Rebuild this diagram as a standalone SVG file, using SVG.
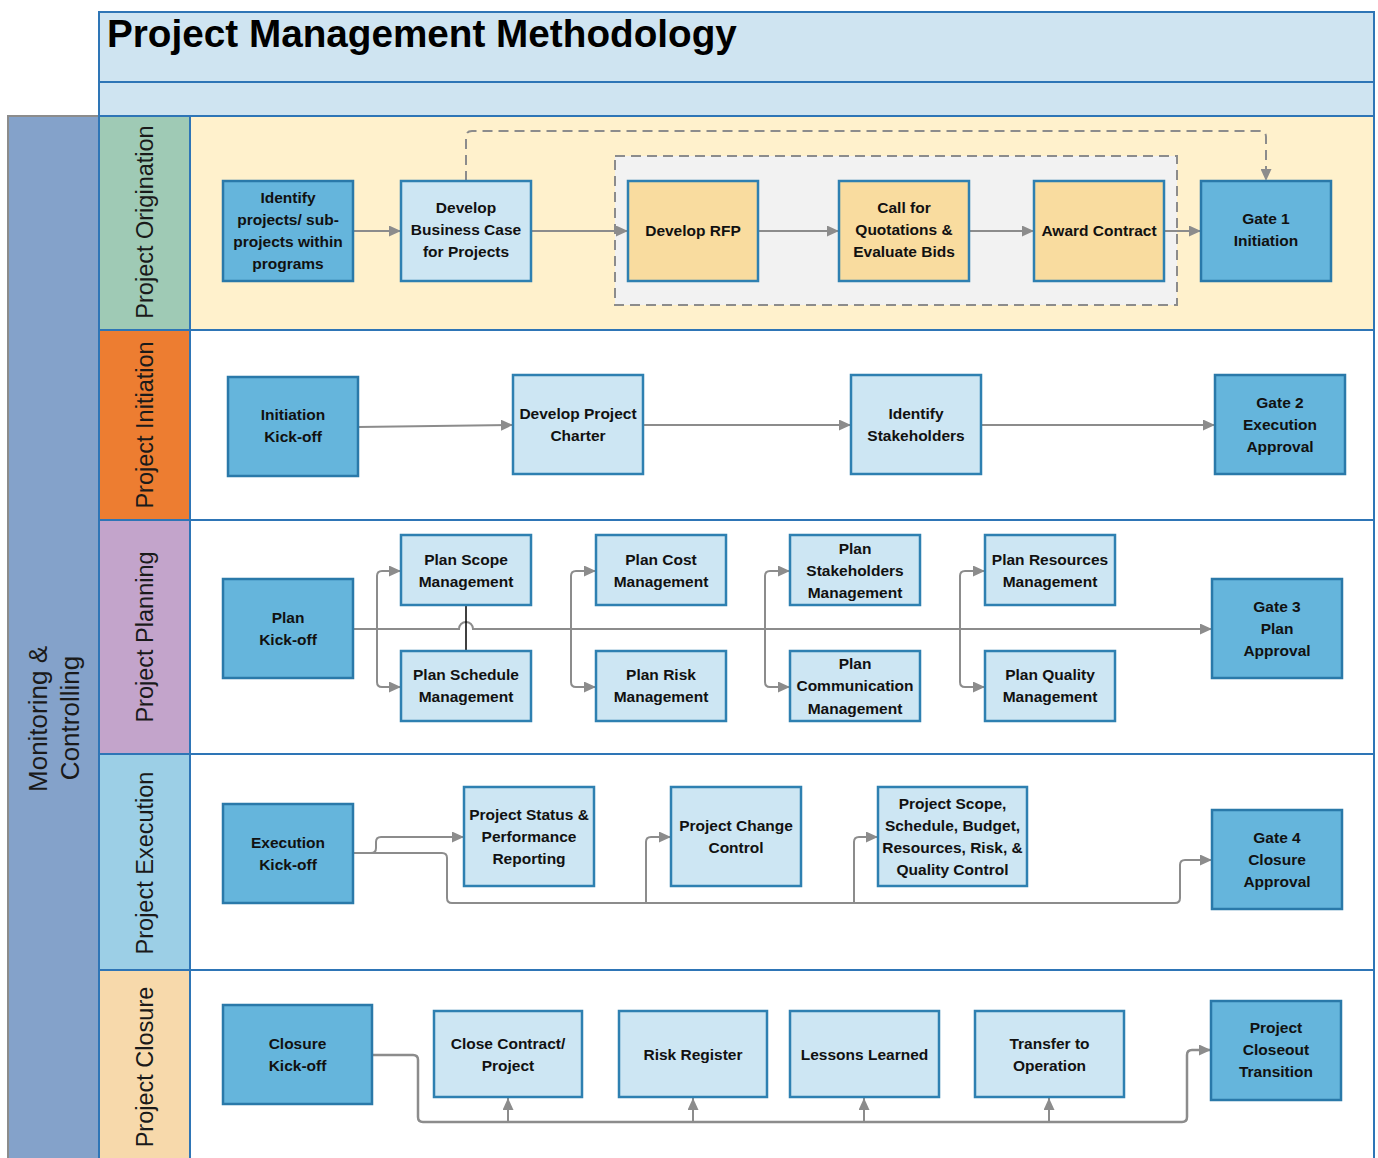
<svg xmlns="http://www.w3.org/2000/svg" width="1378" height="1158" viewBox="0 0 1378 1158">
<defs>
<style>
.lane{stroke:#2e75b6;stroke-width:2}
.phase{font-family:"Liberation Sans",Arial,sans-serif;font-size:23.5px;fill:#1a1a1a;text-anchor:middle}
.node rect{stroke-width:2.5}
.dk rect{fill:#65b5dc;stroke:#2a79a9}
.lt rect{fill:#cde6f3;stroke:#2e80b1}
.or rect{fill:#f9dc9f;stroke:#2e80b1}
.node text{font-family:"Liberation Sans Narrow","Liberation Sans",Arial,sans-serif;font-weight:bold;font-size:15.5px;fill:#111;text-anchor:middle}
.conn path{fill:none;stroke:#8c8c8c;stroke-width:2}
.conn .arr{marker-end:url(#ah)}
</style>
<marker id="ah" markerUnits="userSpaceOnUse" markerWidth="13" markerHeight="11" refX="12" refY="5.5" orient="auto">
<path d="M0,0 L12,5.5 L0,11 z" fill="#8c8c8c"/>
</marker>
</defs>
<rect width="1378" height="1158" fill="#ffffff"/>

<g id="background">
<rect x="99" y="12" width="1275" height="70" fill="#cfe4f1" class="lane"/>
<rect x="99" y="82" width="1275" height="34" fill="#cfe4f1" class="lane"/>
<rect x="8" y="116" width="91" height="1060" fill="#84a2ca" stroke="#8c8c8c" stroke-width="2"/>
<rect x="99" y="116" width="91" height="214" fill="#9fcab5" class="lane"/>
<rect x="99" y="330" width="91" height="190" fill="#ed7d31" class="lane"/>
<rect x="99" y="520" width="91" height="234" fill="#c3a4cb" class="lane"/>
<rect x="99" y="754" width="91" height="216" fill="#9ccfe6" class="lane"/>
<rect x="99" y="970" width="91" height="206" fill="#f7d9ab" class="lane"/>
<rect x="190" y="116" width="1184" height="214" fill="#fff1cc" class="lane"/>
<rect x="190" y="330" width="1184" height="190" fill="#ffffff" class="lane"/>
<rect x="190" y="520" width="1184" height="234" fill="#ffffff" class="lane"/>
<rect x="190" y="754" width="1184" height="216" fill="#ffffff" class="lane"/>
<rect x="190" y="970" width="1184" height="206" fill="#ffffff" class="lane"/>
<rect x="615" y="156" width="562" height="149" fill="#f2f2f2" stroke="#8c8c8c" stroke-width="2" stroke-dasharray="10,6"/>
</g>

<g id="labels">
<text x="107" y="47" font-family="Liberation Sans,Arial,sans-serif" font-weight="bold" font-size="38.7" fill="#000">Project Management Methodology</text>
<text class="phase" style="font-size:26px" transform="translate(47,719) rotate(-90)">Monitoring &amp;</text>
<text class="phase" style="font-size:26px" transform="translate(79,718) rotate(-90)">Controlling</text>
<text class="phase" transform="translate(153,222) rotate(-90)">Project Origination</text>
<text class="phase" transform="translate(153,425) rotate(-90)">Project Initiation</text>
<text class="phase" transform="translate(153,637) rotate(-90)">Project Planning</text>
<text class="phase" transform="translate(153,863) rotate(-90)">Project Execution</text>
<text class="phase" transform="translate(153,1067) rotate(-90)">Project Closure</text>
</g>

<g id="connectors" class="conn">
<path class="arr" d="M353,231 H401"/>
<path class="arr" d="M531,231 H628"/>
<path class="arr" d="M757,231 H839"/>
<path class="arr" d="M968,231 H1034"/>
<path class="arr" d="M1164,231 H1201"/>
<path class="arr" stroke-dasharray="10,6" d="M466,181 V137 Q466,131 472,131 H1260 Q1266,131 1266,137 V181"/>
<path class="arr" d="M358,427 L513,425"/>
<path class="arr" d="M643,425 H851"/>
<path class="arr" d="M981,425 H1215"/>
<path class="arr" d="M353,629 H459 A7,7 0 0 1 473,629 H1212"/>
<path class="arr" d="M377,629 V576 Q377,571 382,571 H401"/>
<path class="arr" d="M377,629 V682 Q377,687 382,687 H401"/>
<path class="arr" d="M571,629 V576 Q571,571 576,571 H596"/>
<path class="arr" d="M571,629 V682 Q571,687 576,687 H596"/>
<path class="arr" d="M765,629 V576 Q765,571 770,571 H790"/>
<path class="arr" d="M765,629 V682 Q765,687 770,687 H790"/>
<path class="arr" d="M960,629 V576 Q960,571 965,571 H985"/>
<path class="arr" d="M960,629 V682 Q960,687 965,687 H985"/>
<path d="M466,605 V651" style="stroke:#000;stroke-width:1.5"/>
<path class="arr" d="M353,853 H371 Q376,853 376,848 V842 Q376,837 381,837 H464"/>
<path class="arr" d="M353,853 H442 Q447,853 447,858 V898 Q447,903 452,903 H1175 Q1180,903 1180,898 V865 Q1180,860 1185,860 H1212"/>
<path class="arr" d="M646,903 V842 Q646,837 651,837 H671"/>
<path class="arr" d="M854,903 V842 Q854,837 859,837 H878"/>
<path class="arr" style="stroke-width:2.5" d="M372,1055 H413 Q418,1055 418,1060 V1117 Q418,1122 423,1122 H1182 Q1187,1122 1187,1117 V1055 Q1187,1050 1192,1050 H1211"/>
<path class="arr" d="M508,1122 V1098"/>
<path class="arr" d="M693,1122 V1098"/>
<path class="arr" d="M864,1122 V1098"/>
<path class="arr" d="M1049,1122 V1098"/>
</g>

<g id="n-identify" class="node dk"><rect x="223" y="181" width="130" height="100"/><text><tspan x="288" y="203">Identify</tspan><tspan x="288" y="225">projects/ sub-</tspan><tspan x="288" y="247">projects within</tspan><tspan x="288" y="269">programs</tspan></text></g>
<g id="n-business-case" class="node lt"><rect x="401" y="181" width="130" height="100"/><text><tspan x="466" y="213">Develop</tspan><tspan x="466" y="235">Business Case</tspan><tspan x="466" y="257">for Projects</tspan></text></g>
<g id="n-rfp" class="node or"><rect x="628" y="181" width="130" height="100"/><text><tspan x="693" y="236">Develop RFP</tspan></text></g>
<g id="n-quotations" class="node or"><rect x="839" y="181" width="130" height="100"/><text><tspan x="904" y="213">Call for</tspan><tspan x="904" y="235">Quotations &amp;</tspan><tspan x="904" y="257">Evaluate Bids</tspan></text></g>
<g id="n-award" class="node or"><rect x="1034" y="181" width="130" height="100"/><text><tspan x="1099" y="236">Award Contract</tspan></text></g>
<g id="n-gate1" class="node dk"><rect x="1201" y="181" width="130" height="100"/><text><tspan x="1266" y="224">Gate 1</tspan><tspan x="1266" y="246">Initiation</tspan></text></g>

<g id="n-init-kickoff" class="node dk"><rect x="228" y="377" width="130" height="99"/><text><tspan x="293" y="420">Initiation</tspan><tspan x="293" y="442">Kick-off</tspan></text></g>
<g id="n-charter" class="node lt"><rect x="513" y="375" width="130" height="99"/><text><tspan x="578" y="419">Develop Project</tspan><tspan x="578" y="441">Charter</tspan></text></g>
<g id="n-stakeholders" class="node lt"><rect x="851" y="375" width="130" height="99"/><text><tspan x="916" y="419">Identify</tspan><tspan x="916" y="441">Stakeholders</tspan></text></g>
<g id="n-gate2" class="node dk"><rect x="1215" y="375" width="130" height="99"/><text><tspan x="1280" y="408">Gate 2</tspan><tspan x="1280" y="430">Execution</tspan><tspan x="1280" y="452">Approval</tspan></text></g>

<g id="n-plan-kickoff" class="node dk"><rect x="223" y="579" width="130" height="99"/><text><tspan x="288" y="623">Plan</tspan><tspan x="288" y="645">Kick-off</tspan></text></g>
<g id="n-scope" class="node lt"><rect x="401" y="535" width="130" height="70"/><text><tspan x="466" y="565">Plan Scope</tspan><tspan x="466" y="587">Management</tspan></text></g>
<g id="n-schedule" class="node lt"><rect x="401" y="651" width="130" height="70"/><text><tspan x="466" y="680">Plan Schedule</tspan><tspan x="466" y="702">Management</tspan></text></g>
<g id="n-cost" class="node lt"><rect x="596" y="535" width="130" height="70"/><text><tspan x="661" y="565">Plan Cost</tspan><tspan x="661" y="587">Management</tspan></text></g>
<g id="n-risk" class="node lt"><rect x="596" y="651" width="130" height="70"/><text><tspan x="661" y="680">Plan Risk</tspan><tspan x="661" y="702">Management</tspan></text></g>
<g id="n-plan-stakeholders" class="node lt"><rect x="790" y="535" width="130" height="70"/><text><tspan x="855" y="554">Plan</tspan><tspan x="855" y="576">Stakeholders</tspan><tspan x="855" y="598">Management</tspan></text></g>
<g id="n-communication" class="node lt"><rect x="790" y="651" width="130" height="70"/><text><tspan x="855" y="669">Plan</tspan><tspan x="855" y="691">Communication</tspan><tspan x="855" y="714">Management</tspan></text></g>
<g id="n-resources" class="node lt"><rect x="985" y="535" width="130" height="70"/><text><tspan x="1050" y="565">Plan Resources</tspan><tspan x="1050" y="587">Management</tspan></text></g>
<g id="n-quality" class="node lt"><rect x="985" y="651" width="130" height="70"/><text><tspan x="1050" y="680">Plan Quality</tspan><tspan x="1050" y="702">Management</tspan></text></g>
<g id="n-gate3" class="node dk"><rect x="1212" y="579" width="130" height="99"/><text><tspan x="1277" y="612">Gate 3</tspan><tspan x="1277" y="634">Plan</tspan><tspan x="1277" y="656">Approval</tspan></text></g>

<g id="n-exec-kickoff" class="node dk"><rect x="223" y="804" width="130" height="99"/><text><tspan x="288" y="848">Execution</tspan><tspan x="288" y="870">Kick-off</tspan></text></g>
<g id="n-status" class="node lt"><rect x="464" y="787" width="130" height="99"/><text><tspan x="529" y="820">Project Status &amp;</tspan><tspan x="529" y="842">Performance</tspan><tspan x="529" y="864">Reporting</tspan></text></g>
<g id="n-change" class="node lt"><rect x="671" y="787" width="130" height="99"/><text><tspan x="736" y="831">Project Change</tspan><tspan x="736" y="853">Control</tspan></text></g>
<g id="n-control" class="node lt"><rect x="878" y="787" width="149" height="99"/><text><tspan x="952.5" y="809">Project Scope,</tspan><tspan x="952.5" y="831">Schedule, Budget,</tspan><tspan x="952.5" y="853">Resources, Risk, &amp;</tspan><tspan x="952.5" y="875">Quality Control</tspan></text></g>
<g id="n-gate4" class="node dk"><rect x="1212" y="810" width="130" height="99"/><text><tspan x="1277" y="843">Gate 4</tspan><tspan x="1277" y="865">Closure</tspan><tspan x="1277" y="887">Approval</tspan></text></g>

<g id="n-closure-kickoff" class="node dk"><rect x="223" y="1005" width="149" height="99"/><text><tspan x="297.5" y="1049">Closure</tspan><tspan x="297.5" y="1071">Kick-off</tspan></text></g>
<g id="n-close-contract" class="node lt"><rect x="434" y="1011" width="148" height="86"/><text><tspan x="508" y="1049">Close Contract/</tspan><tspan x="508" y="1071">Project</tspan></text></g>
<g id="n-risk-register" class="node lt"><rect x="619" y="1011" width="148" height="86"/><text><tspan x="693" y="1060">Risk Register</tspan></text></g>
<g id="n-lessons" class="node lt"><rect x="790" y="1011" width="149" height="86"/><text><tspan x="864.5" y="1060">Lessons Learned</tspan></text></g>
<g id="n-transfer" class="node lt"><rect x="975" y="1011" width="149" height="86"/><text><tspan x="1049.5" y="1049">Transfer to</tspan><tspan x="1049.5" y="1071">Operation</tspan></text></g>
<g id="n-closeout" class="node dk"><rect x="1211" y="1001" width="130" height="99"/><text><tspan x="1276" y="1033">Project</tspan><tspan x="1276" y="1055">Closeout</tspan><tspan x="1276" y="1077">Transition</tspan></text></g>
</svg>
